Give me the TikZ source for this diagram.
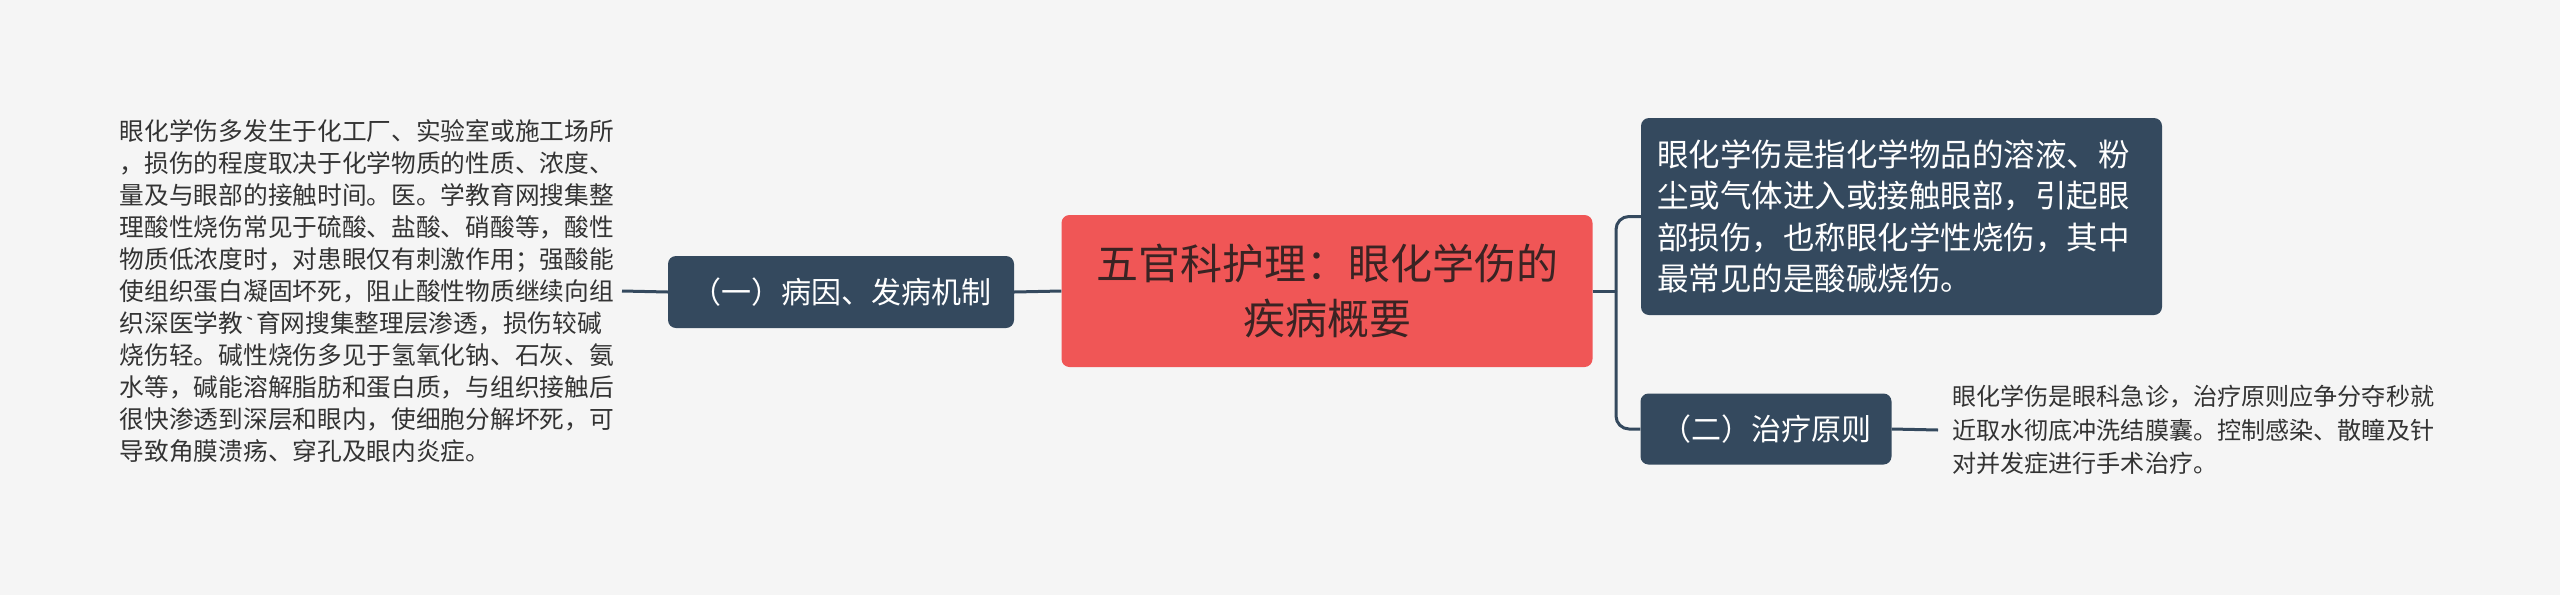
\documentclass[tikz,border=0pt]{standalone}
\usepackage{fontspec}
\newfontfamily\cjk{Noto Sans CJK SC}
\definecolor{bg}{HTML}{F5F5F5}
\definecolor{rootred}{HTML}{F05656}
\definecolor{slate}{HTML}{34495E}
\definecolor{ink}{HTML}{333333}
\definecolor{rootink}{HTML}{3A2323}
\tikzset{
  conn/.style={draw=slate, line width=3pt},
  rootbox/.style={fill=rootred, draw=none, rounded corners=8pt, align=center, text=rootink,
    font=\cjk\fontsize{42}{55.5}\selectfont, inner sep=0pt},
  darkbox/.style={fill=slate, draw=none, rounded corners=8pt, text=white, inner sep=0pt,
    font=\cjk\fontsize{30}{41.3}\selectfont},
  plaintext/.style={text=ink, align=left, inner ysep=0pt, inner xsep=8pt,
    font=\cjk\fontsize{24.7}{32}\selectfont}
}
\begin{document}
\begin{tikzpicture}[x=1pt,y=-1pt]
\fill[bg] (0,0) rectangle (2560,595);
\useasboundingbox (0,0) rectangle (2560,595);

\node[rootbox, minimum width=531pt, minimum height=152pt] (root) at (1327,291)
  {五官科护理：眼化学伤的\\疾病概要};

\node[darkbox, minimum width=346pt, minimum height=72pt] (ln) at (841,292)
  {（一）病因、发病机制};

\node[plaintext, anchor=east] (lt) at (622,291) {眼化学伤多发生于化工厂、实验室或施工场所\\
，损伤的程度取决于化学物质的性质、浓度、\\
量及与眼部的接触时间。医。学教育网搜集整\\
理酸性烧伤常见于硫酸、盐酸、硝酸等，酸性\\
物质低浓度时，对患眼仅有刺激作用；强酸能\\
使组织蛋白凝固坏死，阻止酸性物质继续向组\\
织深医学教{\ttfamily\char96}育网搜集整理层渗透，损伤较碱\\
烧伤轻。碱性烧伤多见于氢氧化钠、石灰、氨\\
水等，碱能溶解脂肪和蛋白质，与组织接触后\\
很快渗透到深层和眼内，使细胞分解坏死，可\\
导致角膜溃疡、穿孔及眼内炎症。};

\node[darkbox, minimum width=521pt, minimum height=197pt, text width=489pt, inner xsep=16pt,
  align=left, font=\cjk\fontsize{31.5}{41.3}\selectfont] (tr) at (1901.5,216.5)
  {眼化学伤是指化学物品的溶液、粉\\
尘或气体进入或接触眼部，引起眼\\
部损伤，也称眼化学性烧伤，其中\\
最常见的是酸碱烧伤。};

\node[darkbox, minimum width=251pt, minimum height=71pt] (br) at (1766,429)
  {（二）治疗原则};

\node[plaintext, anchor=west, inner xsep=14pt, font=\cjk\fontsize{24.1}{33.5}\selectfont] (rt) at (1938,430)
  {眼化学伤是眼科急诊，治疗原则应争分夺秒就\\
近取水彻底冲洗结膜囊。控制感染、散瞳及针\\
对并发症进行手术治疗。};

\coordinate (j) at (1616,291);

\draw[conn] (lt.east) -- (ln.west);
\draw[conn] (ln.east) -- (root.west);
\draw[conn] (root.east) -- (j);
\draw[conn, rounded corners=13pt] (j) |- (tr.west);
\draw[conn, rounded corners=13pt] (j) |- (br.west);
\draw[conn] (br.east) -- (rt.west);
\end{tikzpicture}
\end{document}
